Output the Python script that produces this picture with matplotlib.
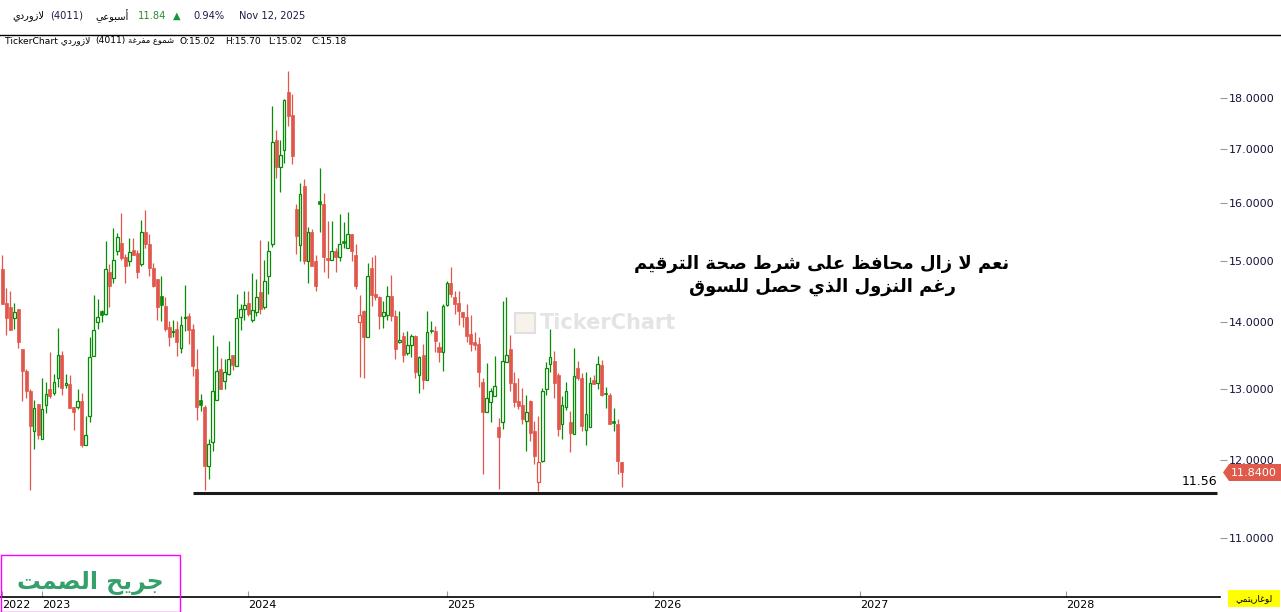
import numpy as np
import matplotlib
matplotlib.use("Agg")
import matplotlib.pyplot as plt
from matplotlib.patches import Rectangle, Polygon
from matplotlib.lines import Line2D
from matplotlib.ticker import FixedLocator, FormatStrFormatter, NullLocator

# =========================================================
# DATA (weekly candles)
# =========================================================

opens = [14.86, 14.31, 14.24, 14.07, 14.22, 13.59, 13.26, 12.96, 12.40, 12.78,
         12.28, 12.77, 12.99, 12.94, 13.16, 13.50, 13.05, 13.07, 12.73, 12.73,
         12.82, 12.21, 12.61, 13.49, 14.01, 14.18, 14.13, 14.82, 14.72, 15.16,
         15.31, 15.06, 15.00, 15.18, 15.14, 14.94, 15.50, 15.29, 14.88, 14.69,
         14.42, 14.26, 13.93, 13.85, 13.90, 13.61, 14.07, 14.10, 13.90, 13.29,
         12.84, 12.73, 11.92, 12.25, 12.83, 13.29, 13.11, 13.22, 13.50, 13.34,
         14.08, 14.22, 14.31, 14.04, 14.16, 14.48, 14.24, 14.74, 15.29, 17.17,
         16.67, 16.98, 18.12, 17.66, 15.90, 15.26, 16.31, 15.00, 15.50, 14.99,
         16.04, 15.99, 15.04, 15.02, 15.17, 15.07, 15.34, 15.22, 15.46, 15.09,
         14.01, 14.18, 13.77, 14.88, 14.45, 14.40, 14.10, 14.12, 14.42, 14.10,
         13.70, 13.79, 13.53, 13.65, 13.79, 13.20, 13.50, 13.12, 13.88, 13.86,
         13.62, 13.55, 14.27, 14.64, 14.40, 14.31, 14.16, 14.08, 13.82, 13.70,
         13.67, 13.09, 12.67, 12.80, 12.89, 12.45, 12.52, 13.40, 13.59, 13.08,
         12.82, 12.76, 12.53, 12.82, 12.40, 11.71, 11.99, 12.99, 13.37, 13.41,
         13.20, 12.50, 12.74, 12.52, 12.36, 13.31, 13.15, 12.41, 12.45, 13.12,
         13.08, 13.35, 12.94, 12.91, 12.54, 12.50, 11.97]

highs = [15.09, 14.55, 14.50, 14.31, 14.22, 13.59, 13.29, 12.99, 12.83, 12.78,
         13.16, 13.10, 13.55, 13.22, 13.91, 13.56, 13.22, 13.20, 12.73, 13.00,
         12.94, 12.61, 13.77, 14.44, 14.37, 14.19, 15.34, 14.95, 15.57, 15.48,
         15.83, 15.12, 15.39, 15.39, 15.19, 15.71, 15.88, 15.45, 14.97, 14.69,
         14.74, 14.40, 14.02, 14.04, 14.02, 14.10, 14.60, 14.15, 13.98, 13.59,
         12.92, 12.76, 12.28, 13.80, 13.64, 13.46, 13.44, 13.71, 13.50, 14.46,
         14.29, 14.50, 14.50, 14.79, 14.69, 15.36, 15.02, 15.34, 17.84, 17.37,
         17.17, 17.98, 18.55, 18.08, 15.99, 16.37, 16.44, 15.58, 15.55, 15.09,
         16.65, 16.19, 15.69, 15.69, 15.22, 15.80, 15.66, 15.85, 15.46, 15.29,
         14.43, 14.19, 14.97, 15.07, 15.09, 14.42, 14.34, 14.58, 14.77, 14.19,
         14.18, 13.85, 13.87, 13.82, 13.80, 13.48, 13.67, 14.18, 14.02, 13.95,
         13.70, 14.29, 14.66, 14.89, 14.50, 14.50, 14.16, 14.29, 14.12, 13.85,
         13.77, 13.16, 13.38, 13.01, 13.49, 12.58, 14.34, 14.40, 13.80, 13.25,
         13.15, 13.01, 12.90, 12.83, 12.54, 12.61, 13.01, 13.40, 13.90, 13.56,
         13.23, 12.89, 13.09, 12.68, 13.61, 13.41, 13.23, 13.25, 13.17, 13.20,
         13.49, 13.43, 13.02, 12.94, 12.72, 12.57, 11.97]

lows = [14.29, 13.80, 13.88, 13.90, 13.61, 12.82, 12.86, 11.61, 12.15, 12.29,
        12.28, 12.65, 12.87, 12.91, 13.02, 12.91, 13.01, 12.72, 12.41, 12.70,
        12.18, 12.20, 12.52, 13.49, 13.90, 14.00, 14.11, 14.24, 14.64, 15.09,
        15.02, 14.64, 14.91, 15.09, 14.72, 14.91, 15.22, 14.74, 14.56, 14.04,
        14.02, 13.86, 13.64, 13.77, 13.49, 13.53, 13.87, 13.66, 13.19, 12.55,
        12.68, 11.61, 11.75, 12.12, 12.83, 13.00, 12.99, 13.20, 13.28, 13.34,
        13.88, 14.04, 14.10, 14.00, 14.10, 14.13, 14.22, 14.45, 15.24, 16.46,
        16.21, 16.74, 17.44, 16.72, 15.12, 15.00, 14.94, 14.64, 14.91, 14.50,
        15.50, 14.82, 14.72, 15.02, 14.82, 15.00, 15.21, 15.22, 14.99, 14.53,
        13.17, 13.16, 13.77, 14.26, 14.35, 13.90, 13.91, 14.04, 14.03, 13.44,
        13.68, 13.40, 13.50, 13.47, 13.15, 12.94, 12.99, 13.12, 13.84, 13.55,
        13.40, 13.26, 14.26, 14.40, 14.13, 13.96, 13.93, 13.70, 13.56, 13.57,
        13.02, 11.81, 12.67, 12.52, 12.89, 11.62, 12.42, 13.40, 12.96, 12.73,
        12.71, 12.50, 12.12, 12.26, 11.95, 11.59, 11.97, 12.91, 13.25, 12.86,
        12.33, 12.28, 12.69, 12.11, 12.36, 13.12, 12.40, 12.20, 12.45, 13.07,
        13.00, 12.89, 12.72, 12.49, 12.40, 11.81, 11.65]

closes = [14.29, 14.07, 13.88, 14.16, 13.70, 13.26, 12.97, 12.47, 12.72, 12.34,
          12.71, 12.92, 12.89, 13.09, 13.50, 13.01, 13.08, 12.72, 12.67, 12.82,
          12.20, 12.34, 13.47, 13.88, 14.08, 14.11, 14.86, 14.59, 15.02, 15.41,
          15.05, 14.91, 15.15, 15.09, 14.81, 15.50, 15.29, 14.88, 14.59, 14.25,
          14.28, 13.90, 13.77, 13.87, 13.70, 13.96, 14.09, 13.88, 13.34, 12.74,
          12.76, 11.92, 12.22, 12.96, 13.26, 13.00, 13.25, 13.44, 13.35, 14.07,
          14.22, 14.27, 14.13, 14.19, 14.40, 14.22, 14.67, 15.16, 17.13, 16.67,
          16.89, 17.96, 17.64, 16.87, 15.43, 16.17, 15.00, 15.50, 14.91, 14.59,
          15.99, 15.06, 15.01, 15.17, 15.07, 15.29, 15.31, 15.45, 15.16, 14.59,
          14.12, 13.77, 14.75, 14.44, 14.40, 14.10, 14.16, 14.42, 14.10, 13.59,
          13.73, 13.50, 13.65, 13.79, 13.25, 13.47, 13.13, 13.85, 13.86, 13.71,
          13.55, 14.26, 14.64, 14.45, 14.29, 14.18, 14.08, 13.79, 13.67, 13.65,
          13.25, 12.67, 12.87, 12.97, 13.04, 12.31, 13.41, 13.50, 13.08, 12.80,
          12.75, 12.57, 12.66, 12.37, 12.06, 11.97, 12.96, 13.31, 13.47, 13.08,
          12.43, 12.76, 12.97, 12.37, 13.19, 13.15, 12.47, 12.64, 13.08, 13.07,
          13.37, 12.91, 12.92, 12.50, 12.51, 11.99, 11.84]

support_level = 11.56
last_price = 11.84

year_labels = ["2022", "2023", "2024", "2025", "2026", "2027", "2028"]
year_pos = [0, 10, 62, 112, 164, 216, 268]      # candle index of each year mark
price_ticks = [11, 12, 13, 14, 15, 16, 17, 18]

GREEN = "#078c07"
RED = "#e2574c"

# =========================================================
# ARABIC SHAPING (matplotlib has no shaping / bidi)
# =========================================================

AR_FORMS = {
    'ا': (0xFE8D, False), 'أ': (0xFE83, False), 'ب': (0xFE8F, True),
    'ة': (0xFE93, False), 'ت': (0xFE95, True), 'ج': (0xFE9D, True),
    'ح': (0xFEA1, True), 'د': (0xFEA9, False), 'ذ': (0xFEAB, False),
    'ر': (0xFEAD, False), 'ز': (0xFEAF, False), 'س': (0xFEB1, True),
    'ش': (0xFEB5, True), 'ص': (0xFEB9, True), 'ط': (0xFEC1, True),
    'ظ': (0xFEC5, True), 'ع': (0xFEC9, True), 'غ': (0xFECD, True),
    'ف': (0xFED1, True), 'ق': (0xFED5, True), 'ل': (0xFEDD, True),
    'م': (0xFEE1, True), 'ن': (0xFEE5, True), 'و': (0xFEED, False),
    'ى': (0xFEEF, False), 'ي': (0xFEF1, True),
}


def shape(text):
    tokens = []
    i = 0
    while i < len(text):
        c = text[i]
        if c == 'ل' and i + 1 < len(text) and text[i + 1] in ('ا', 'أ'):
            tokens.append('LA' if text[i + 1] == 'ا' else 'LAH')
            i += 2
        else:
            tokens.append(c)
            i += 1

    def joins_next(t):
        return t in AR_FORMS and AR_FORMS[t][1]

    def is_ar(t):
        return t in AR_FORMS or t in ('LA', 'LAH')

    out = []
    for k, t in enumerate(tokens):
        prev_j = k > 0 and joins_next(tokens[k - 1])
        if t in ('LA', 'LAH'):
            base = 0xFEFB if t == 'LA' else 0xFEF7
            out.append(chr(base + (1 if prev_j else 0)))
            continue
        if t not in AR_FORMS:
            out.append(t)
            continue
        base, dual = AR_FORMS[t]
        next_j = dual and k + 1 < len(tokens) and is_ar(tokens[k + 1])
        if prev_j and next_j:
            f = 3
        elif prev_j:
            f = 1
        elif next_j:
            f = 2
        else:
            f = 0
        out.append(chr(base + f))
    return ''.join(reversed(out))


# =========================================================
# FIGURE
# =========================================================

W, H = 1281, 612
fig = plt.figure(figsize=(W / 100, H / 100), dpi=100)
fig.patch.set_facecolor("white")


def fx(x):
    return x / W


def fy(y):
    return 1 - y / H


ax = fig.add_axes([0, fy(597), fx(1220), (597 - 35) / H])

x_px0, x_step = 2.3, 3.97
ax.set_xlim(-x_px0 / x_step, (1220 - x_px0) / x_step)
ax.set_yscale("log")
y_top = 18 * np.exp((98 - 35) / 893)
y_bot = 18 * np.exp((98 - 597) / 893)
ax.set_ylim(y_bot, y_top)

# candles (hollow style: colour vs previous close, fill vs open)
prev = opens[0]
for i, (o, h, l, c) in enumerate(zip(opens, highs, lows, closes)):
    col = GREEN if c >= prev else RED
    prev = c
    ax.vlines(i, l, h, color=col, lw=0.9, zorder=2)
    lo, hi = min(o, c), max(o, c)
    if hi - lo < 0.02:
        hi = lo + 0.02
    if c > o:
        ax.add_patch(Rectangle((i - 0.33, lo), 0.66, hi - lo, facecolor="white",
                               edgecolor=col, lw=0.9, zorder=3))
    else:
        ax.add_patch(Rectangle((i - 0.38, lo), 0.76, hi - lo, facecolor=col,
                               edgecolor=col, lw=0.5, zorder=3))

# support line
ax.hlines(support_level, 48, 306, color="#1a1a1a", lw=2.2, zorder=4)
ax.text(306, support_level * 1.006, f"{support_level:.2f}", ha="right", va="bottom",
        fontsize=9, color="black")

# axes styling
for s in ["left", "right", "top"]:
    ax.spines[s].set_visible(False)
ax.spines["bottom"].set_color("black")
ax.spines["bottom"].set_linewidth(1.2)

ax.yaxis.tick_right()
ax.yaxis.set_major_locator(FixedLocator(price_ticks))
ax.yaxis.set_major_formatter(FormatStrFormatter("%.4f"))
ax.yaxis.set_minor_locator(NullLocator())
ax.tick_params(axis="y", direction="out", length=5, width=0.8, color="#9a9a9a",
               labelsize=8, labelcolor="#14143c", pad=1.5)

ax.set_xticks(year_pos)
ax.set_xticklabels(year_labels, ha="left")
ax.xaxis.set_minor_locator(NullLocator())
ax.tick_params(axis="x", direction="in", length=4, width=0.8, color="#9a9a9a",
               labelsize=8, labelcolor="black", pad=2)

# watermark (drawn inside the axes, behind the candles)
ax.add_patch(Rectangle((fx(515), fy(333)), fx(20), 20 / H, transform=fig.transFigure,
                       facecolor="#f7f3ea", edgecolor="#e0e0e0", lw=1.5, zorder=1))
ax.text(fx(540), fy(323), "TickerChart", fontsize=15, fontweight="bold",
        color="#e4e4e4", va="center", ha="left", zorder=1, transform=fig.transFigure)

# annotation
fig.text(fx(822), fy(264), shape("نعم لا زال محافظ على شرط صحة الترقيم"),
         fontsize=13, fontweight="bold", ha="center", va="center", color="black")
fig.text(fx(822), fy(287), shape("رغم النزول الذي حصل للسوق"),
         fontsize=13, fontweight="bold", ha="center", va="center", color="black")

# header
top_line = Line2D([0, 1], [fy(35), fy(35)], transform=fig.transFigure,
                  color="black", lw=1)
fig.add_artist(top_line)

hdr = "#1c1c46"
fs1 = 7.1
fig.text(fx(12), fy(16), shape("لازوردي"), fontsize=fs1, ha="left", va="center", color="black")
fig.text(fx(50), fy(16), "(4011)", fontsize=fs1, ha="left", va="center", color=hdr)
fig.text(fx(95), fy(16), shape("أسبوعي"), fontsize=fs1, ha="left", va="center", color="black")
fig.text(fx(138), fy(16), f"{last_price:.2f}", fontsize=fs1, ha="left", va="center", color="#2b8a2b")
fig.text(fx(173), fy(16), "▲", fontsize=fs1, ha="left", va="center", color="#14963c")
fig.text(fx(193), fy(16), "0.94%", fontsize=fs1, ha="left", va="center", color=hdr)
fig.text(fx(239), fy(16), "Nov 12, 2025", fontsize=fs1, ha="left", va="center", color=hdr)

fs2 = 6.6
line2_parts = [(5, "TickerChart " + shape("لازوردي"), fs2), (95, "(4011)", fs2),
               (128, shape("شموع مفرغة"), 6.0), (180, "O:15.02", fs2),
               (225, "H:15.70", fs2), (268, "L:15.02", fs2), (312, "C:15.18", fs2)]
for xp, txt, fs in line2_parts:
    fig.text(fx(xp), fy(41), txt, fontsize=fs, ha="left", va="center", color="black")

# last price tag
tag = Polygon([(fx(1223), fy(472.5)), (fx(1229), fy(464)), (fx(1281), fy(464)),
               (fx(1281), fy(481)), (fx(1229), fy(481))], closed=True,
              transform=fig.transFigure, facecolor="#e05a4b", edgecolor="none")
fig.add_artist(tag)
fig.text(fx(1254), fy(472.5), f"{last_price:.4f}", fontsize=8, ha="center",
         va="center", color="white")

# log scale badge
fig.add_artist(Rectangle((fx(1228), fy(607)), fx(52), 17 / H, transform=fig.transFigure,
                         facecolor="#ffff00", edgecolor="none"))
fig.text(fx(1254), fy(598.5), shape("لوغاريتمي"), fontsize=6.5, ha="center",
         va="center", color="black")

# signature box
fig.add_artist(Rectangle((fx(0.5), fy(612)), fx(179.5), 57 / H, transform=fig.transFigure,
                         facecolor="none", edgecolor="#ff00ff", lw=1))
fig.text(fx(90), fy(583), shape("جريح الصمت"), fontsize=17, fontweight="bold",
         ha="center", va="center", color="#35a06c")

fig.savefig("out.png", dpi=100)
